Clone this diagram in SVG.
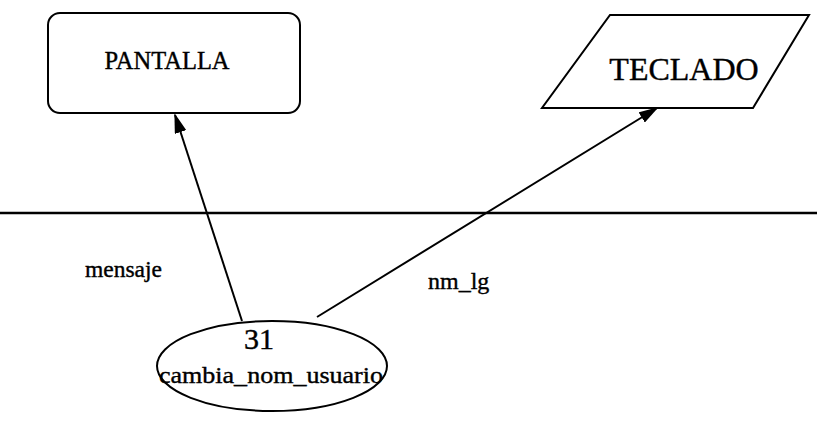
<svg xmlns="http://www.w3.org/2000/svg" width="817" height="425" viewBox="0 0 817 425">
<style>
.shape{fill:#fff;stroke:#000;stroke-width:2}
.t{font-family:"Liberation Serif","Times New Roman",serif;fill:#000;stroke:#000;stroke-width:0.4}
.conn{stroke:#000;stroke-width:2;fill:none}
</style>
<defs>
<marker id="ah" markerWidth="20" markerHeight="12" refX="18" refY="6" orient="auto" markerUnits="userSpaceOnUse">
<path d="M0,0 L20,6 L0,12 Z" fill="#000"/>
</marker>
</defs>
<rect width="817" height="425" fill="#fff"/>
<line x1="0" y1="213" x2="817" y2="213" stroke="#000" stroke-width="2.5"/>
<g id="pantalla">
<rect class="shape" x="48" y="13" width="252" height="100" rx="12"/>
<text class="t" x="167" y="69" font-size="24.5" text-anchor="middle">PANTALLA</text>
</g>
<g id="teclado">
<polygon class="shape" points="610,15 809,15 753,108 542,108"/>
<text class="t" x="684" y="80" font-size="32" text-anchor="middle">TECLADO</text>
</g>
<g id="proceso">
<ellipse class="shape" cx="272" cy="366" rx="115" ry="45"/>
<text class="t" x="259" y="349" font-size="30" text-anchor="middle">31</text>
<text class="t" x="271" y="383" font-size="24" text-anchor="middle" textLength="224" lengthAdjust="spacingAndGlyphs">cambia_nom_usuario</text>
</g>
<g id="connectors">
<line class="conn" x1="242" y1="321" x2="175" y2="115" marker-end="url(#ah)"/>
<line class="conn" x1="317" y1="317" x2="657" y2="108" marker-end="url(#ah)"/>
<text class="t" x="85" y="277" font-size="23.5">mensaje</text>
<text class="t" x="428" y="289" font-size="24">nm_lg</text>
</g>
</svg>
